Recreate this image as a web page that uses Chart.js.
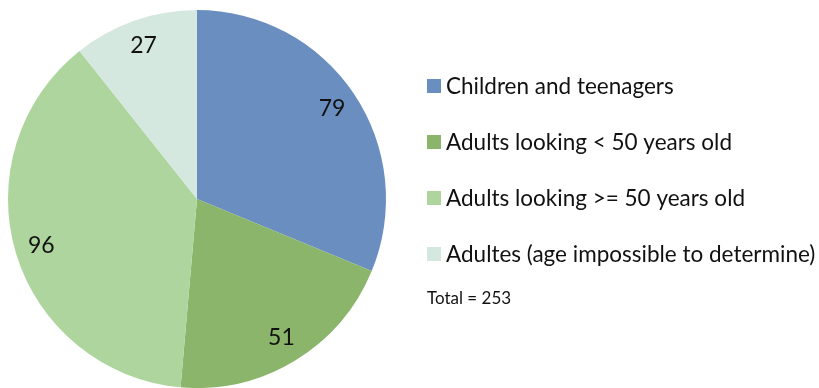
<!DOCTYPE html>
<html>
<head>
<meta charset="utf-8">
<script src="https://cdn.jsdelivr.net/npm/chart.js@4/dist/chart.umd.min.js"></script>
<style>
  html, body { margin: 0; padding: 0; background: #fff; }
  #wrap { width: 819px; height: 388px; }
</style>
</head>
<body>
<div id="wrap"><canvas id="myChart" width="819" height="388"></canvas></div>
<script>
// Données du camembert
const categories = ["Children and teenagers", "Adults looking < 50 years old", "Adults looking >= 50 years old", "Adultes (age impossible to determine)"];
const valeurs = [79, 51, 96, 27];
const couleurs = ['#6a8ebf', '#8bb56b', '#aed59e', '#d4e8df'];
const totalTexte = 'Total = 253';

// Valeurs écrites dans chaque part
const etiquettes = {
  id: 'etiquettes',
  afterDatasetsDraw(chart) {
    const ctx = chart.ctx;
    const meta = chart.getDatasetMeta(0);
    ctx.save();
    ctx.font = '23px Lato';
    ctx.fillStyle = '#111';
    ctx.textAlign = 'center';
    ctx.textBaseline = 'middle';
    meta.data.forEach((arc, i) => {
      const p = arc.getProps(['x', 'y', 'startAngle', 'endAngle', 'outerRadius']);
      const a = (p.startAngle + p.endAngle) / 2;
      const r = p.outerRadius * 0.86;
      ctx.fillText(valeurs[i], p.x + Math.cos(a) * r, p.y + Math.sin(a) * r);
    });
    ctx.restore();
  }
};

// Légende à droite + total
const legende = {
  id: 'legende',
  afterDraw(chart) {
    const ctx = chart.ctx;
    ctx.save();
    ctx.textBaseline = 'middle';
    ctx.textAlign = 'left';
    categories.forEach((c, i) => {
      const y = 86 + i * 56;
      ctx.fillStyle = couleurs[i];
      ctx.fillRect(427, y - 7, 14, 14);
      ctx.fillStyle = '#111';
      ctx.font = '22.5px Lato';
      ctx.fillText(c, 446, y + 1);
    });
    ctx.font = '17px Lato';
    ctx.fillText(totalTexte, 427, 299);
    ctx.restore();
  }
};

const data = {
  labels: categories,
  datasets: [{
    data: valeurs,
    backgroundColor: couleurs,
    borderWidth: 0
  }]
};

const config = {
  type: 'pie',
  data: data,
  options: {
    responsive: false,
    animation: false,
    layout: { padding: { left: 8, right: 433, top: 10, bottom: 0 } },
    plugins: {
      legend: { display: false },
      tooltip: { enabled: false }
    }
  },
  plugins: [etiquettes, legende]
};

var myChart = new Chart(document.getElementById('myChart'), config);
</script>
</body>
</html>
